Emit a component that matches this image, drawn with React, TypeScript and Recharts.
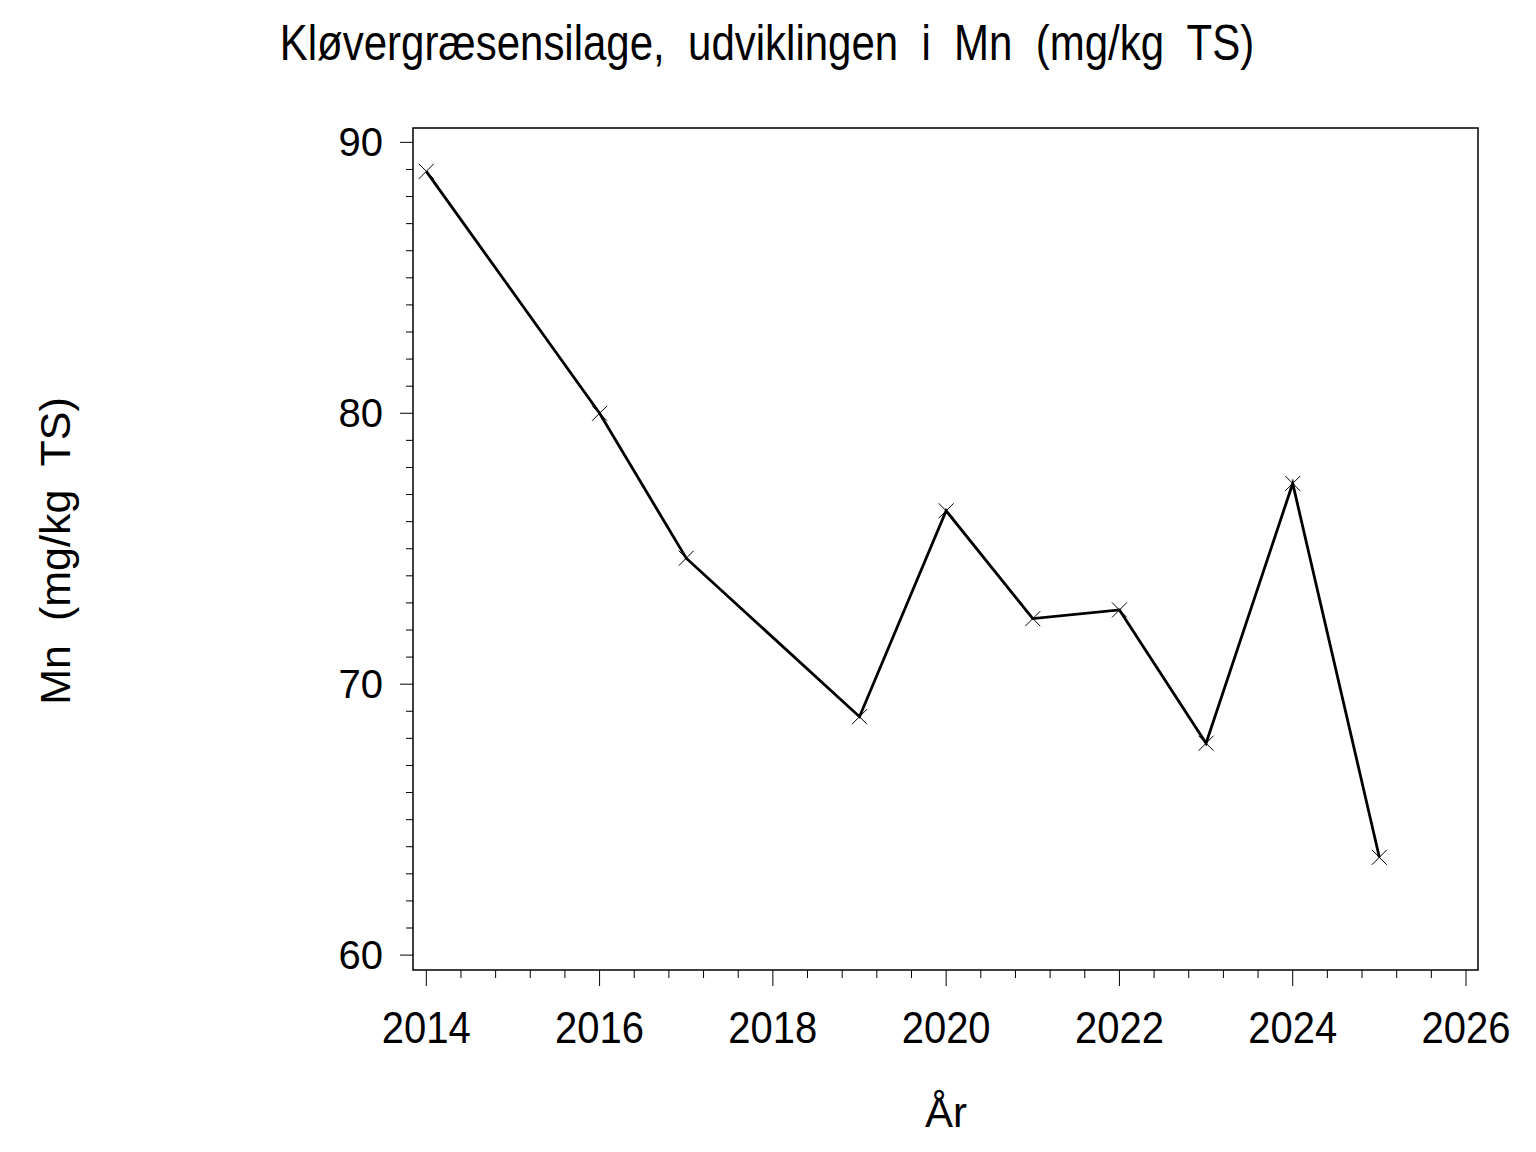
import { LineChart, Line, XAxis, YAxis, ReferenceArea } from 'recharts';

const years = [2014, 2016, 2017, 2019, 2020, 2021, 2022, 2023, 2024, 2025];
const mnValues = [88.93, 80.0, 74.65, 68.8, 76.4, 72.42, 72.74, 67.82, 77.41, 63.61];

const xMajorTicks = [2014, 2016, 2018, 2020, 2022, 2024, 2026];
const yMajorTicks = [60, 70, 80, 90];

const X_MIN = 2013.8465;
const X_MAX = 2026.1385;
const Y_MIN = 59.45;
const Y_MAX = 90.53;

const FONT = '"Liberation Sans", Arial, Helvetica, sans-serif';

const data = years.map((year, i) => ({ year, mn: mnValues[i] }));

// minor ticks: 4 between x majors, 9 between y majors
const xTicks: number[] = [];
for (let i = 0; i <= 30; i++) xTicks.push(Math.round((2014 + i * 0.4) * 10) / 10);
const yTicks: number[] = [];
for (let v = 60; v <= 90; v++) yTicks.push(v);

function XTick({ x, y, payload }: any) {
  const v = payload.value;
  const major = xMajorTicks.includes(v);
  return (
    <g>
      <line x1={x} x2={x} y1={y} y2={y + (major ? 16 : 8)} stroke="#000" strokeWidth={1} />
      {major && (
        <text x={x} y={y + 73} textAnchor="middle" fontFamily={FONT} fontSize={40} fill="#000"
          transform={`translate(0 ${(y + 73) * -0.1}) scale(1 1.1)`}>
          {v}
        </text>
      )}
    </g>
  );
}

function YTick({ x, y, payload }: any) {
  const v = payload.value;
  const major = yMajorTicks.includes(v);
  return (
    <g>
      <line x1={x - (major ? 13 : 7)} x2={x} y1={y} y2={y} stroke="#000" strokeWidth={1} />
      {major && (
        <text x={x - 30} y={y + 14} textAnchor="end" fontFamily={FONT} fontSize={40} fill="#000">
          {v}
        </text>
      )}
    </g>
  );
}

function Cross({ cx, cy }: any) {
  if (cx == null || cy == null) return null;
  const s = 7.5;
  return (
    <g>
      <line x1={cx - s} y1={cy - s} x2={cx + s} y2={cy + s} stroke="#000" strokeWidth={1} />
      <line x1={cx - s} y1={cy + s} x2={cx + s} y2={cy - s} stroke="#000" strokeWidth={1} />
    </g>
  );
}

export default function App() {
  return (
    <div style={{ position: 'absolute', left: 0, top: 0, width: 1536, height: 1152, background: '#fff' }}>
      <LineChart width={1536} height={1152} data={data} margin={{ top: 128, right: 58, left: 0, bottom: 0 }}>
        <XAxis
          dataKey="year"
          type="number"
          domain={[X_MIN, X_MAX]}
          ticks={xTicks}
          interval={0}
          allowDataOverflow
          height={182}
          tickSize={0}
          tickMargin={0}
          axisLine={false}
          tick={<XTick />}
        />
        <YAxis
          type="number"
          domain={[Y_MIN, Y_MAX]}
          ticks={yTicks}
          interval={0}
          allowDataOverflow
          width={413}
          tickSize={0}
          tickMargin={0}
          axisLine={false}
          tick={<YTick />}
        />
        <ReferenceArea x1={X_MIN} x2={X_MAX} y1={Y_MIN} y2={Y_MAX} fill="none" stroke="#000" strokeWidth={1.5} ifOverflow="visible" />
        <Line
          type="linear"
          dataKey="mn"
          stroke="#000"
          strokeWidth={2.8}
          dot={<Cross />}
          activeDot={false}
          isAnimationActive={false}
        />
      </LineChart>
      <svg width={1536} height={1152} style={{ position: 'absolute', left: 0, top: 0, pointerEvents: 'none' }}>
        <text x={767} y={60} textAnchor="middle" fontFamily={FONT} fontSize={42} fill="#000"
          style={{ whiteSpace: 'pre' }} transform="translate(0 -10.2) scale(1 1.17)">
          {'Kløvergræsensilage,  udviklingen  i  Mn  (mg/kg  TS)'}
        </text>
        <text x={55} y={551} textAnchor="middle" fontFamily={FONT} fontSize={43} fill="#000"
          style={{ whiteSpace: 'pre' }} dy="0.35em" transform="rotate(-90 55 551)">
          {'Mn  (mg/kg  TS)'}
        </text>
        <text x={946} y={1127} textAnchor="middle" fontFamily={FONT} fontSize={42} fill="#000">
          År
        </text>
      </svg>
    </div>
  );
}
